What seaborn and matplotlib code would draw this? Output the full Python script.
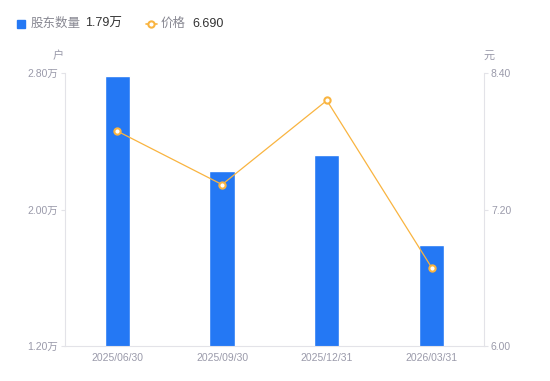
import seaborn as sns
import matplotlib.pyplot as plt
import pandas as pd
import numpy as np

# 数据
dates = ["2025/06/30", "2025/09/30", "2025/12/31", "2026/03/31"]
holders = [2.785, 2.225, 2.32, 1.795]   # 万户
prices = [7.89, 7.42, 8.16, 6.69]    # 元
left_ticks = [1.20, 2.00, 2.80]
left_labels = ["1.20万", "2.00万", "2.80万"]
right_ticks = [6.00, 7.20, 8.40]
right_labels = ["6.00", "7.20", "8.40"]

df = pd.DataFrame({"date": dates, "holders": holders, "price": prices})

sns.set_style("white")
plt.rcParams['font.family'] = ['Liberation Sans', 'Noto Sans CJK SC', 'DejaVu Sans']

blue = "#2478F4"
orange = "#F9B440"
grey = "#9A9AAA"
axis_grey = "#E3E3E8"

fig = plt.figure(figsize=(5.5, 3.81), dpi=100)
ax = fig.add_axes([0.118, 0.092, 0.762, 0.716])

sns.barplot(data=df, x="date", y="holders", color=blue, width=0.24,
            saturation=1, ax=ax)
ax.set_xlim(-0.5, 3.5)
ax.set_ylim(1.20, 2.80)
ax.set_yticks(left_ticks)
ax.set_yticklabels(left_labels)
ax.set_xlabel("")
ax.set_ylabel("")

ax2 = ax.twinx()
sns.lineplot(x=np.arange(len(dates)), y=prices, ax=ax2, color=orange,
             linewidth=0.9, marker="o", markersize=4.5,
             markerfacecolor="white", markeredgecolor=orange,
             markeredgewidth=1.5)
ax2.set_xlim(-0.5, 3.5)
ax2.set_ylim(6.00, 8.40)
ax2.set_yticks(right_ticks)
ax2.set_yticklabels(right_labels)

for a in (ax, ax2):
    for s in a.spines.values():
        s.set_visible(False)
    a.tick_params(colors=grey, labelsize=7.5, length=3, width=0.8, pad=2)
    a.tick_params(axis="y", color=axis_grey)
ax.tick_params(axis="x", length=0, pad=5)
ax.spines["left"].set_visible(True)
ax.spines["left"].set_color(axis_grey)
ax.spines["bottom"].set_visible(True)
ax.spines["bottom"].set_color(axis_grey)
ax2.spines["right"].set_visible(True)
ax2.spines["right"].set_color(axis_grey)

# 单位
fig.text(0.106, 0.84, "户", color=grey, fontsize=8, ha="center", va="bottom")
fig.text(0.89, 0.84, "元", color=grey, fontsize=8, ha="center", va="bottom")

# 图例
fig.patches.append(plt.Rectangle((0.031, 0.927), 0.015, 0.021, color=blue,
                                 transform=fig.transFigure, figure=fig))
fig.text(0.056, 0.937, "股东数量", color="#888892", fontsize=9, va="center")
fig.text(0.154, 0.937, "1.79万", color="#333333", fontsize=9, va="center")
fig.add_artist(plt.Line2D([0.265, 0.285], [0.937, 0.937],
                          color=orange, linewidth=1.2,
                          transform=fig.transFigure))
fig.add_artist(plt.Line2D([0.275], [0.937], linestyle="none", marker="o",
                          markersize=4.5, markerfacecolor="white",
                          markeredgecolor=orange, markeredgewidth=1.5,
                          transform=fig.transFigure))
fig.text(0.292, 0.937, "价格", color="#888892", fontsize=9, va="center")
fig.text(0.35, 0.937, "6.690", color="#333333", fontsize=9, va="center")

fig.savefig("out.png", dpi=100)
